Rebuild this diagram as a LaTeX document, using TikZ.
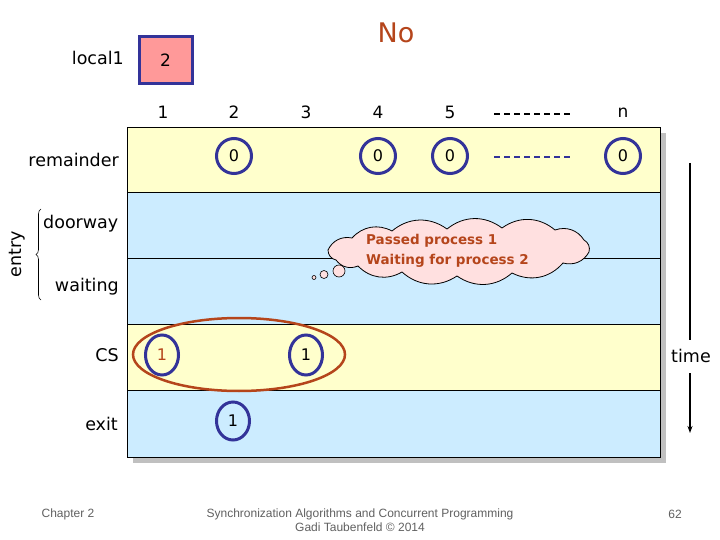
\documentclass[tikz,border=0pt]{standalone}
\usepackage{fontspec}
\setmainfont{DejaVu Sans}
\newfontfamily\footfont{Liberation Sans}
\usetikzlibrary{shapes.geometric,decorations.pathreplacing,arrows.meta}
\definecolor{rowyellow}{HTML}{FFFFCC}
\definecolor{rowblue}{HTML}{CCECFF}
\definecolor{boxpink}{HTML}{FF9999}
\definecolor{ringblue}{HTML}{333399}
\definecolor{brick}{HTML}{B5451B}
\definecolor{cloudpink}{HTML}{FFE0E0}
\definecolor{shadowgray}{HTML}{C0C0C0}
\definecolor{footgray}{HTML}{606060}
\tikzset{
  lbl/.style={font=\fontsize{17.5}{20}\selectfont, inner sep=0pt},
  colnum/.style={font=\fontsize{17}{19}\selectfont, inner sep=0pt},
  ring/.style={circle, draw=ringblue, line width=3pt, minimum size=35pt, inner sep=0pt, font=\fontsize{16}{18}\selectfont},
  ringtall/.style={ellipse, draw=ringblue, line width=3pt, minimum width=33pt, minimum height=40pt, inner sep=0pt, font=\fontsize{16}{18}\selectfont},
  rowline/.style={line width=0.8pt, black},
  dashline/.style={line width=2.5pt, dash pattern=on 6pt off 4pt},
  bubble/.style={circle, draw=black, line width=0.6pt, fill=cloudpink, inner sep=0pt},
  puff/.style={bend left=38},
  foot/.style={font=\footfont\fontsize{12}{14}\selectfont, text=footgray, inner sep=0pt, align=center}
}
\begin{document}
\begin{tikzpicture}[x=1pt,y=-1pt]
\useasboundingbox (0,0) rectangle (720,540);
% title
\node[font=\fontsize{27}{29}\selectfont, text=brick, inner sep=0pt] (no) at (396,33) {No};
% local1
\node[lbl, anchor=east] (local) at (124,58) {local1};
\node[draw=ringblue, line width=3pt, fill=boxpink, minimum width=53pt, minimum height=47pt, inner sep=0pt, font=\fontsize{17}{19}\selectfont] (localbox) at (165.5,60.5) {2};
% shadow and rows
\fill[shadowgray] (133,133) rectangle (666,463);
\fill[rowyellow] (127,127) rectangle (660,192);
\fill[rowblue] (127,192) rectangle (660,324);
\fill[rowyellow] (127,324) rectangle (660,390);
\fill[rowblue] (127,390) rectangle (660,457);
\draw[rowline] (127,192) -- (660,192);
\draw[rowline] (127,258) -- (660,258);
\draw[rowline] (127,324) -- (660,324);
\draw[rowline] (127,390) -- (660,390);
\draw[rowline] (127,127) rectangle (660,457);
% column numbers
\node[colnum] (c1) at (163,112) {1};
\node[colnum] (c2) at (234,112) {2};
\node[colnum] (c3) at (306,112) {3};
\node[colnum] (c4) at (378,112) {4};
\node[colnum] (c5) at (450,112) {5};
\node[colnum] (cn) at (623,113) {n};
\coordinate (d1a) at (494,114);
\coordinate (d1b) at (571,114);
\draw[dashline, black] (d1a) -- (d1b);
% row labels
\node[lbl, anchor=east] (rem) at (119,160) {remainder};
\node[lbl, anchor=west] (door) at (43,224) {doorway};
\node[lbl, anchor=east] (wait) at (119,287) {waiting};
\node[lbl, anchor=east] (cs) at (119,355) {CS};
\node[lbl, anchor=east] (exit) at (118,424) {exit};
\node[lbl, rotate=90] (entry) at (17,254) {entry};
\coordinate (brb) at (41,300);
\coordinate (brt) at (41,209);
\draw[decorate, decoration={brace, amplitude=5pt}, line width=0.6pt] (brb) -- (brt);
% remainder rings
\node[ring] (r2) at (234,156) {0};
\node[ring] (r4) at (378,156) {0};
\node[ring] (r5) at (450,156) {0};
\node[ring] (rn) at (623,156) {0};
\coordinate (d2a) at (494,157);
\coordinate (d2b) at (571,157);
\draw[dashline, ringblue] (d2a) -- (d2b);
% CS and exit
\node[ringtall, text=brick] (cs1) at (162,355) {1};
\node[ringtall] (cs3) at (306,355) {1};
\node[ringtall, minimum height=38pt] (ex2) at (233,421) {1};
\node[ellipse, draw=brick, line width=2.5pt, minimum width=212pt, minimum height=73pt, inner sep=0pt] (grp) at (239,354.5) {};
% cloud
\draw[line width=0.8pt, fill=cloudpink]
  (328,250) to[puff] (352,238) to[puff] (392,231) to[puff] (447,229)
  to[puff] (502,228) to[puff] (555,230) to[puff] (584,240) to[puff] (589,252)
  to[puff] (563,263) to[puff] (512,273) to[puff] (457,276) to[puff] (402,272)
  to[puff] (358,266) to[puff] (336,260) to[puff] (328,250) -- cycle;
\node[bubble, minimum size=12pt] (b3) at (339,271) {};
\node[bubble, minimum size=8pt] (b2) at (324,274.5) {};
\node[bubble, minimum size=4pt] (b1) at (314,277.5) {};
\node[font=\bfseries\fontsize{13.5}{20}\selectfont, text=brick, align=left, anchor=west, inner sep=0pt] (ctext) at (366,251) {Passed process 1\\Waiting for process 2};
% time arrow
\node[lbl] (time) at (691,356) {time};
\coordinate (t0) at (690,163);
\coordinate (t1) at (690,340);
\coordinate (t2) at (690,373);
\coordinate (t3) at (690,433);
\draw[line width=1.6pt] (t0) -- (t1);
\draw[line width=1.2pt, -{Stealth[length=7pt,width=5pt]}] (t2) -- (t3);
% footer
\node[foot] (chap) at (68,514) {Chapter 2};
\node[foot] (mid) at (360,520) {Synchronization Algorithms and Concurrent Programming\\Gadi Taubenfeld \textcopyright{} 2014};
\node[foot] (page) at (675,514) {62};
\end{tikzpicture}
\end{document}
